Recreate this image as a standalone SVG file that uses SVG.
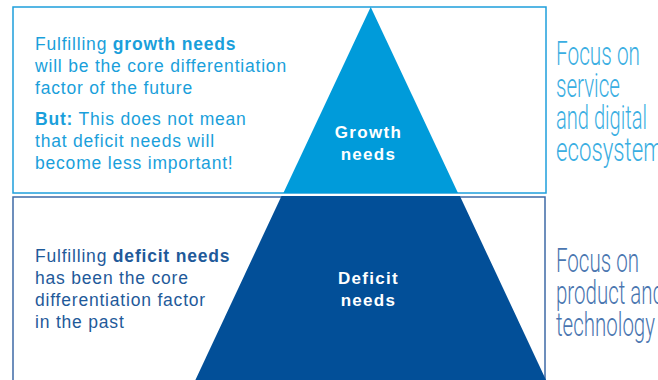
<svg xmlns="http://www.w3.org/2000/svg" width="658" height="380" viewBox="0 0 658 380">
<style>
.lt{font-family:"Liberation Sans",Arial,sans-serif;font-size:17.5px;letter-spacing:0.8px}
.g{fill:#1A9FDB}
.d{fill:#1F5A9A}
.b{font-weight:bold}
.lbl{font-family:"Liberation Sans",Arial,sans-serif;font-size:17px;font-weight:bold;fill:#fff;text-anchor:middle;letter-spacing:1.3px}
.foc{font-family:Roboto,"Liberation Sans",sans-serif;font-weight:300;font-size:34px}
</style>
<rect width="658" height="380" fill="#fff"/>
<g id="growth-box">
<rect x="13" y="7" width="533" height="186" fill="none" stroke="#1E9FDC" stroke-width="1.5"/>
</g>
<g id="deficit-box">
<rect x="13" y="197" width="532" height="200" fill="none" stroke="#3E6AA6" stroke-width="1.5"/>
</g>
<g id="growth-needs">
<polygon points="370.7,7 458,193 283.4,193" fill="#009BDA"/>
<text class="lbl" x="368.5" y="138">Growth</text>
<text class="lbl" x="368.5" y="160">needs</text>
</g>
<g id="deficit-needs">
<polygon points="281.5,196 459.9,196 546,380 195.4,380" fill="#024F98"/>
<text class="lbl" x="368.5" y="284">Deficit</text>
<text class="lbl" x="368.5" y="306">needs</text>
</g>
<g id="growth-text" class="lt g">
<text x="35" y="50">Fulfilling <tspan class="b">growth needs</tspan></text>
<text x="35" y="72">will be the core differentiation</text>
<text x="35" y="94">factor of the future</text>
<text x="35" y="125"><tspan class="b">But:</tspan> This does not mean</text>
<text x="35" y="147">that deficit needs will</text>
<text x="35" y="169">become less important!</text>
</g>
<g id="deficit-text" class="lt d">
<text x="35" y="262">Fulfilling <tspan class="b">deficit needs</tspan></text>
<text x="35" y="284">has been the core</text>
<text x="35" y="306">differentiation factor</text>
<text x="35" y="328">in the past</text>
</g>
<g id="focus-service" class="foc" fill="#3AAEE2">
<text x="556" y="65" textLength="84" lengthAdjust="spacingAndGlyphs">Focus on</text>
<text x="556" y="97" textLength="64" lengthAdjust="spacingAndGlyphs">service</text>
<text x="556" y="129" textLength="91" lengthAdjust="spacingAndGlyphs">and digital</text>
<text x="556" y="161" textLength="107" lengthAdjust="spacingAndGlyphs">ecosystem</text>
</g>
<g id="focus-product" class="foc" fill="#4A76B0">
<text x="556" y="272" textLength="83" lengthAdjust="spacingAndGlyphs">Focus on</text>
<text x="556" y="304" textLength="108" lengthAdjust="spacingAndGlyphs">product and</text>
<text x="556" y="336" textLength="99" lengthAdjust="spacingAndGlyphs">technology</text>
</g>
</svg>
